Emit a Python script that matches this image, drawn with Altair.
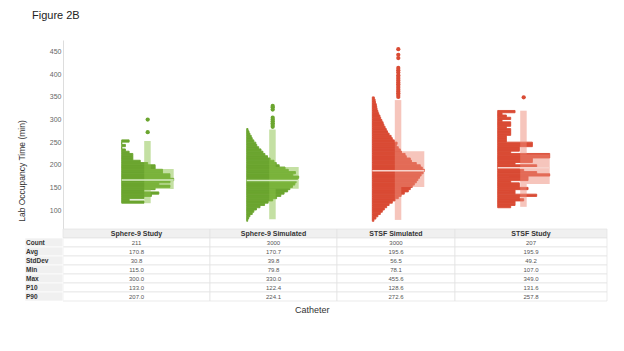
import altair as alt
import pandas as pd

# ---------------- data ----------------
catheters = ["Sphere-9 Study", "Sphere-9 Simulated", "STSF Simulated", "STSF Study"]
families = ["Sphere-9", "Sphere-9", "STSF", "STSF"]

bin_width = 5
hist_start = [115, 75, 75, 105]
hist_sphere9_study = [6, 2, 6, 8, 10, 6, 9, 13, 10, 13,
                      14, 13, 13, 11, 11, 9, 9, 7, 5, 3,
                      3, 3, 2, 1, 0, 1, 0, 2]
hist_sphere9_sim = [3, 6, 10, 17, 22, 30, 41, 55, 66, 80,
                    92, 105, 115, 126, 133, 141, 148, 152, 156, 160,
                    142, 150, 128, 118, 100, 91, 84, 72, 64, 56,
                    50, 44, 37, 31, 28, 22, 17, 14, 10, 7, 4]
hist_stsf_sim = [4, 9, 14, 20, 25, 30, 36, 42, 50, 57,
                 65, 72, 80, 90, 95, 100, 105, 110, 114, 118,
                 122, 127, 130, 125, 120, 110, 98, 95, 85, 82,
                 73, 70, 65, 60, 62, 55, 50, 47, 42, 38,
                 35, 32, 29, 27, 24, 21, 19, 16, 14, 12,
                 11, 10, 8, 7, 5]
hist_stsf_study = [3, 4, 4, 6, 5, 9, 4, 4, 7, 5,
                   5, 3, 7, 7, 12, 9, 6, 5, 9, 4,
                   8, 8, 12, 12, 3, 5, 5, 8, 8, 2,
                   2, 2, 3, 3, 3, 2, 3, 3, 1, 3, 2, 1, 4]
hist_counts = [hist_sphere9_study, hist_sphere9_sim, hist_stsf_sim, hist_stsf_study]

box_low = [115.0, 79.8, 78.1, 107.0]
box_q1 = [146.4, 147.0, 151.0, 157.5]
box_median = [166.3, 165.0, 187.0, 193.5]
box_q3 = [190.6, 195.0, 230.0, 223.0]
box_high = [252.5, 278.0, 343.0, 319.5]
outliers = [
    [300.0, 272.0],
    [330.0, 327.0, 322.0, 304.0, 300.0, 296.0, 292.0, 288.0, 284.0],
    [455.6, 443.0, 436.0, 414.0, 409.0, 404.0, 398.0, 394.0, 390.0, 386.0,
     382.0, 378.0, 374.0, 370.0, 366.0, 362.0, 358.0, 354.0, 350.0],
    [349.0],
]

stat_names = ["Count", "Avg", "StdDev", "Min", "Max", "P10", "P90"]
stat_count = [211, 3000, 3000, 207]
stat_avg = [170.8, 170.7, 195.6, 195.9]
stat_std = [30.8, 39.8, 56.5, 49.2]
stat_min = [115.0, 79.8, 78.1, 107.0]
stat_max = [300.0, 330.0, 455.6, 349.0]
stat_p10 = [133.0, 122.4, 128.6, 131.6]
stat_p90 = [207.0, 224.1, 272.6, 257.8]

y_ticks = [100, 150, 200, 250, 300, 350, 400, 450]

# ---------------- style / layout ----------------
FONT = "Liberation Sans"
DARK = {"Sphere-9": "#6ba52f", "STSF": "#d94b34"}
BOXC = {"Sphere-9": "#89c147", "STSF": "#ed8b79"}
MEDC = {"Sphere-9": "#d6ebc3", "STSF": "#f7d3cc"}

PANEL_W = [147, 127, 118, 152]
BASE_X = [58.7, 36.7, 35.3, 42.7]
PLOT_H = 189
ROW_H = 9
TABLE_H = ROW_H * 8
H = PLOT_H + TABLE_H
BAR_PX = 52
BOX_X0, WHISK_X1, BOX_X1, DOT_X = 22.5, 29, 52, 26
Y_MIN, Y_MAX = 58, 475.8

row_order = ["header"] + stat_names
GRID = "#e2e2e2"


def panel(i):
    fam = families[i]
    w = PANEL_W[i]
    b = BASE_X[i]
    counts = hist_counts[i]
    starts = [hist_start[i] + bin_width * k for k in range(len(counts))]
    hist_df = pd.DataFrame({"start": starts,
                            "end": [s + bin_width for s in starts],
                            "count": counts})
    m = max(counts)
    xscale = alt.Scale(domain=[-b * m / BAR_PX, (w - b) * m / BAR_PX], nice=False, zero=False)
    yscale = alt.Scale(domain=[Y_MIN, Y_MAX], range=[PLOT_H, 0], nice=False, zero=False)

    if i == 0:
        yaxis = alt.Axis(values=y_ticks, title="Lab Occupancy Time (min)", grid=False, ticks=False,
                         labelFont=FONT, labelFontSize=7, labelColor="#666666", labelPadding=2,
                         domainColor="#dddddd", titleFont=FONT, titleFontSize=8.5,
                         titleFontWeight="normal", titleColor="#333333", titleX=-42, titleY=H / 2,
                         titleAlign="center", titleBaseline="middle", titleAngle=270)
    else:
        yaxis = None

    hist = alt.Chart(hist_df).mark_rect(color=DARK[fam], stroke=DARK[fam], strokeWidth=0.9).encode(
        x=alt.X("count:Q", scale=xscale, axis=None),
        x2=alt.datum(0),
        y=alt.Y("start:Q", scale=yscale, axis=yaxis),
        y2="end:Q",
    )
    stats_df = pd.DataFrame({"lo": [box_low[i]], "q1": [box_q1[i]], "med": [box_median[i]],
                             "q3": [box_q3[i]], "hi": [box_high[i]]})
    whisk_df = pd.DataFrame({"a": [box_low[i], box_q3[i]], "b": [box_q1[i], box_high[i]]})
    whisk = alt.Chart(whisk_df).mark_rect(color=BOXC[fam], opacity=0.5).encode(
        x=alt.value(b + BOX_X0), x2=alt.value(b + WHISK_X1),
        y=alt.Y("a:Q", scale=yscale, axis=yaxis), y2="b:Q")
    box = alt.Chart(stats_df).mark_rect(color=BOXC[fam], opacity=0.5).encode(
        x=alt.value(b + BOX_X0), x2=alt.value(b + BOX_X1),
        y=alt.Y("q1:Q", scale=yscale, axis=yaxis), y2="q3:Q")
    med = alt.Chart(stats_df).mark_rule(color=MEDC[fam], strokeWidth=1.5).encode(
        x=alt.value(b), x2=alt.value(b + BOX_X1),
        y=alt.Y("med:Q", scale=yscale, axis=yaxis))
    dots = alt.Chart(pd.DataFrame({"v": outliers[i]})).mark_circle(
        color=DARK[fam], opacity=1, size=18).encode(
        x=alt.value(b + DOT_X), y=alt.Y("v:Q", scale=yscale, axis=yaxis))
    plot_layer = alt.layer(hist, whisk, box, med, dots)

    # table
    vals = [str(stat_count[i])] + [f"{v:.1f}" for v in
                                   (stat_avg[i], stat_std[i], stat_min[i], stat_max[i],
                                    stat_p10[i], stat_p90[i])]
    tdf = pd.DataFrame({"row": row_order, "text": [catheters[i]] + vals})
    rowscale = alt.Scale(domain=row_order, range=[PLOT_H, H], paddingInner=0, paddingOuter=0)
    ry = alt.Y("row:N", scale=rowscale, axis=None)
    hcell = alt.Chart(tdf).transform_filter("datum.row == 'header'").mark_rect(
        fill="#f0f0f0", stroke=GRID, strokeWidth=0.7).encode(
        y=ry, x=alt.value(0), x2=alt.value(w))
    vcell = alt.Chart(tdf).transform_filter("datum.row != 'header'").mark_rect(
        fill="#ffffff", stroke=GRID, strokeWidth=0.7).encode(
        y=ry, x=alt.value(0), x2=alt.value(w))
    htext = alt.Chart(tdf).transform_filter("datum.row == 'header'").mark_text(
        font=FONT, fontSize=7, fontWeight="bold", color="#333333").encode(
        y=ry, x=alt.value(w / 2), text="text:N")
    vtext = alt.Chart(tdf).transform_filter("datum.row != 'header'").mark_text(
        font=FONT, fontSize=6, color="#555555").encode(
        y=ry, x=alt.value(w / 2), text="text:N")
    tlayers = [hcell, vcell, htext, vtext]
    if i == 0:
        rh = pd.DataFrame({"row": stat_names})
        rh_rect = alt.Chart(rh).mark_rect(fill="#f0f0f0", stroke="#ffffff", strokeWidth=0.7).encode(
            y=ry, x=alt.value(-38), x2=alt.value(0))
        rh_text = alt.Chart(rh).mark_text(font=FONT, fontSize=6.5, fontWeight="bold",
                                          color="#333333", align="left").encode(
            y=ry, x=alt.value(-37), text="row:N")
        tlayers += [rh_rect, rh_text]
    table_layer = alt.layer(*tlayers)

    return alt.layer(plot_layer, table_layer).resolve_scale(y="independent").properties(
        width=w, height=H)


row = alt.hconcat(*[panel(i) for i in range(4)], spacing=0, bounds="flush").properties(
    title=alt.TitleParams("Catheter", orient="bottom", anchor="middle", font=FONT, fontSize=9,
                          fontWeight="normal", color="#333333", offset=5))

chart = alt.vconcat(row, title=alt.TitleParams("Figure 2B", anchor="start", font=FONT, fontSize=11,
                                               fontWeight="normal", color="#222222", offset=19,
                                               dx=15)
                    ).properties(padding={"left": 17, "top": 10, "right": 5, "bottom": 5},
                                 background="white").configure_view(strokeWidth=0)

chart.save("out.html", embed_options={"renderer": "svg", "actions": False})
